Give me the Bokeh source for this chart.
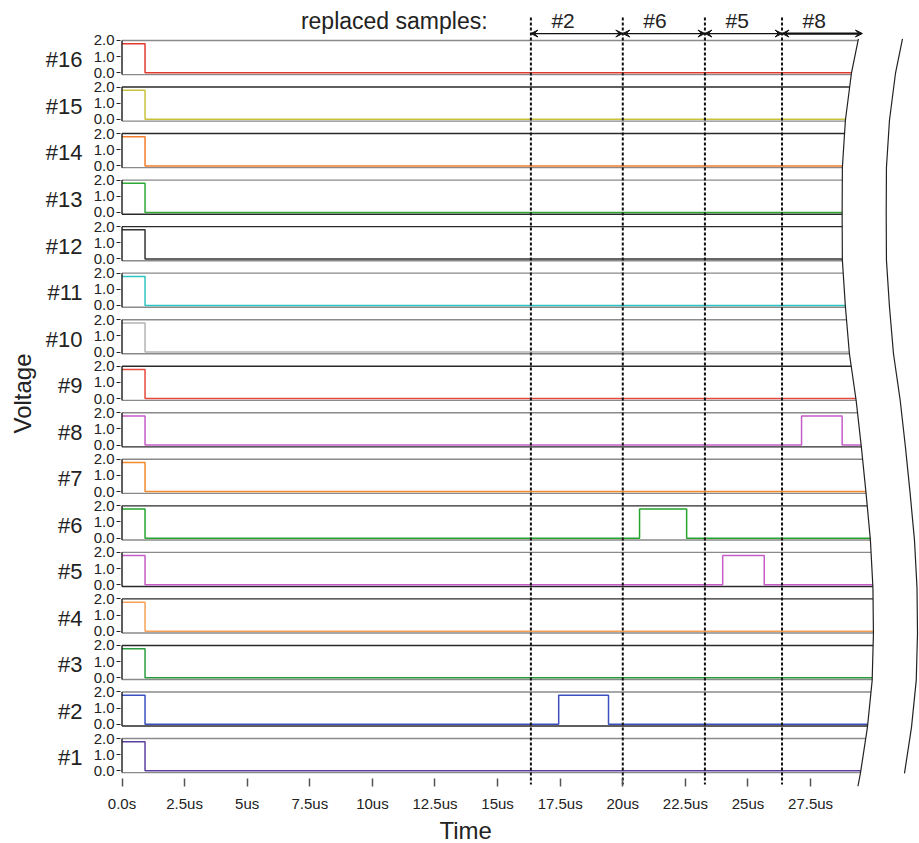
import numpy as np
from bokeh.plotting import figure
from bokeh.models import (Range1d, FixedTicker, Arrow, VeeHead, ColumnDataSource,
                          LinearAxis, Title)
from bokeh.core.properties import value
from bokeh.embed import file_html
from bokeh.resources import INLINE

# ---------------- data ----------------
channels = [16, 15, 14, 13, 12, 11, 10, 9, 8, 7, 6, 5, 4, 3, 2, 1]
channel_labels = ["#16", "#15", "#14", "#13", "#12", "#11", "#10", "#9",
                  "#8", "#7", "#6", "#5", "#4", "#3", "#2", "#1"]
channel_colors = ["#e23b2e", "#c9c23c", "#f47c2c", "#2fa836", "#333333", "#2ec4c4",
                  "#b4b4b4", "#e64a3c", "#c45cc8", "#f2892e", "#25a52d", "#c65cc6",
                  "#f4a05a", "#2b9a3e", "#3b4fbf", "#5b3f9e"]
high_level_v = 1.8
initial_fall_us = 0.92
pulse_channels = [2, 6, 5, 8]
pulse_start_us = [17.44, 20.67, 23.99, 27.14]
pulse_end_us = [19.43, 22.55, 25.65, 28.76]
window_bounds_us = [16.33, 20.0, 23.28, 26.36, 29.57]
window_labels = ["#2", "#6", "#5", "#8"]
x_tick_values = [0.0, 2.5, 5.0, 7.5, 10.0, 12.5, 15.0, 17.5, 20.0, 22.5, 25.0, 27.5]
x_tick_labels = ["0.0s", "2.5us", "5us", "7.5us", "10us", "12.5us", "15us",
                 "17.5us", "20us", "22.5us", "25us", "27.5us"]
y_tick_values = [0.0, 1.0, 2.0]
y_tick_labels = ["0.0", "1.0", "2.0"]

# ---------------- layout / decoration ----------------
PANEL_STEP = 2.88
BOX_TOP = 2.0
BOX_BOTTOM = -0.11
LABEL_LEVEL = 0.8
GRAY = "#8a8a8a"
DARK = "#2a2a2a"
frame_top_colors = [GRAY, DARK, DARK, GRAY, DARK, GRAY, GRAY, DARK,
                    GRAY, GRAY, DARK, GRAY, DARK, DARK, GRAY, GRAY]
frame_bottom_colors = [GRAY, GRAY, GRAY, DARK, GRAY, GRAY, GRAY, GRAY,
                       DARK, GRAY, GRAY, DARK, GRAY, GRAY, DARK, GRAY]
# hand-drawn "cut" line at the right (time in us, y in stacked-volt units)
break_curve_v = [45.30, 43.16, 40.25, 37.34, 34.49, 31.59, 28.74, 25.83, 22.92,
                 20.01, 17.11, 14.26, 11.35, 8.50, 5.60, 2.69, -0.16, -0.97]
break_curve_t = [29.41, 29.13, 28.89, 28.77, 28.76, 28.77, 28.89, 29.05, 29.32,
                 29.53, 29.72, 29.89, 29.99, 30.01, 29.96, 29.77, 29.49, 29.39]
BREAK_GAP_US = 1.76

_v_inc = np.array(break_curve_v[::-1])
_t_inc = np.array(break_curve_t[::-1])


def edge_at(v):
    return float(np.interp(v, _v_inc, _t_inc))


FONT = "Liberation Sans"

# ---------------- figure ----------------
p = figure(width=919, height=843, output_backend="svg", toolbar_location=None,
           x_range=Range1d(-0.06, 31.85), y_range=Range1d(-0.97, 47.675),
           min_border_left=120, min_border_right=0, min_border_top=0,
           min_border_bottom=57, outline_line_color=None,
           background_fill_color="white", border_fill_color="white")
p.xgrid.grid_line_color = None
p.ygrid.grid_line_color = None

# panel frames
fx0, fy0, fx1, fy1, fc = [], [], [], [], []
for c, tc, bc in zip(channels, frame_top_colors, frame_bottom_colors):
    off = (c - 1) * PANEL_STEP
    fx0 += [0.0, 0.0]
    fy0 += [off + BOX_TOP, off + BOX_BOTTOM]
    fx1 += [edge_at(off + BOX_TOP), edge_at(off + BOX_BOTTOM)]
    fy1 += [off + BOX_TOP, off + BOX_BOTTOM]
    fc += [tc, bc]
p.segment(x0="x0", y0="y0", x1="x1", y1="y1", line_color="c", line_width=1.4,
          source=ColumnDataSource(dict(x0=fx0, y0=fy0, x1=fx1, y1=fy1, c=fc)))

# signals
sig_xs, sig_ys = [], []
for c in channels:
    off = (c - 1) * PANEL_STEP
    xs = [0.0, initial_fall_us, initial_fall_us]
    ys = [high_level_v, high_level_v, 0.0]
    for pc, s, e in zip(pulse_channels, pulse_start_us, pulse_end_us):
        if pc == c:
            xs += [s, s, e, e]
            ys += [0.0, high_level_v, high_level_v, 0.0]
    xs.append(edge_at(off))
    ys.append(0.0)
    sig_xs.append(xs)
    sig_ys.append([y + off for y in ys])
p.multi_line(xs="xs", ys="ys", line_color="c", line_width=1.5,
             source=ColumnDataSource(dict(xs=sig_xs, ys=sig_ys, c=channel_colors)))

# left edge of each panel
lx, ly0, ly1 = [], [], []
for c in channels:
    off = (c - 1) * PANEL_STEP
    lx.append(0.0)
    ly0.append(off + BOX_BOTTOM)
    ly1.append(off + BOX_TOP)
p.segment(x0="x", y0="y0", x1="x", y1="y1", line_color="#1a1a1a", line_width=1.4,
          source=ColumnDataSource(dict(x=lx, y0=ly0, y1=ly1)))

# dashed window separators
sep = window_bounds_us[:-1]
p.segment(x0=sep, y0=[46.62] * len(sep), x1=sep, y1=[-0.85] * len(sep),
          line_color="#111111", line_width=2, line_dash="3 2")

# break curves
p.line(x=break_curve_t, y=break_curve_v, line_color="#222222", line_width=1.2)
p.line(x=[t + BREAK_GAP_US for t in break_curve_t[:-1]],
       y=break_curve_v[:-1], line_color="#222222", line_width=1.2)

# arrows and window labels
for i in range(len(window_labels)):
    lw = 2.2 if i == len(window_labels) - 1 else 1.2
    p.add_layout(Arrow(x_start=window_bounds_us[i], y_start=45.63,
                       x_end=window_bounds_us[i + 1], y_end=45.63,
                       line_width=lw, line_color="#111111",
                       start=VeeHead(size=7, line_color="#111111", fill_color="#111111", line_width=1),
                       end=VeeHead(size=7, line_color="#111111", fill_color="#111111", line_width=1)))
p.text(x=[b + 0.82 for b in window_bounds_us[:-1]], y=[46.42] * len(window_labels),
       text=window_labels, text_font=value(FONT), text_font_size="21px",
       text_align="left", text_baseline="alphabetic", text_color="#222222")
p.text(x=[14.6], y=[46.42], text=["replaced samples:"], text_font=value(FONT),
       text_font_size="23px", text_align="right", text_baseline="alphabetic",
       text_color="#222222")

# x axis
xa = p.xaxis[0]
xa.ticker = FixedTicker(ticks=x_tick_values)
xa.major_label_overrides = {v: s for v, s in zip(x_tick_values, x_tick_labels)}
xa.bounds = (0, 27.5)
xa.axis_line_color = None
xa.major_tick_in = 8
xa.major_tick_out = 0
xa.major_tick_line_color = "#555555"
xa.major_tick_line_width = 1.5
xa.minor_tick_line_color = None
xa.major_label_standoff = 8
xa.major_label_text_font = FONT
xa.major_label_text_font_size = "15px"
xa.major_label_text_color = "#222222"
p.add_layout(Title(text="Time", align="left", offset=319, standoff=0,
                   text_font=FONT, text_font_size="24px", text_font_style="normal",
                   text_color="#222222"), "below")

# inner y axis: per-panel voltage ticks
yt, yo = [], {}
for c in channels:
    off = (c - 1) * PANEL_STEP
    for v, s in zip(y_tick_values, y_tick_labels):
        t = round(off + v, 4)
        yt.append(t)
        yo[t] = s
ya = p.yaxis[0]
ya.ticker = FixedTicker(ticks=sorted(yt))
ya.major_label_overrides = yo
ya.axis_line_color = None
ya.major_tick_out = 4
ya.major_tick_in = 0
ya.major_tick_line_color = "#222222"
ya.major_tick_line_width = 1.2
ya.minor_tick_line_color = None
ya.major_label_standoff = 2
ya.major_label_text_font = FONT
ya.major_label_text_font_size = "15px"
ya.major_label_text_color = "#222222"

# outer y axis: channel names and "Voltage"
ct, co = [], {}
for c, lab in zip(channels, channel_labels):
    t = round((c - 1) * PANEL_STEP + LABEL_LEVEL, 4)
    ct.append(t)
    co[t] = lab
ya2 = LinearAxis(ticker=FixedTicker(ticks=sorted(ct)), major_label_overrides=co,
                 axis_line_color=None, major_tick_out=0, major_tick_in=0,
                 major_tick_line_color=None, minor_tick_line_color=None,
                 major_label_standoff=8, major_label_text_font=FONT,
                 major_label_text_font_size="22px", major_label_text_color="#222222",
                 axis_label="Voltage", axis_label_text_font=FONT,
                 axis_label_text_font_size="24px", axis_label_text_font_style="normal",
                 axis_label_text_color="#222222", axis_label_standoff=7,
                 bounds=(-0.5, 47.6))
p.add_layout(ya2, "left")

open("out.html", "w").write(file_html(p, INLINE))
